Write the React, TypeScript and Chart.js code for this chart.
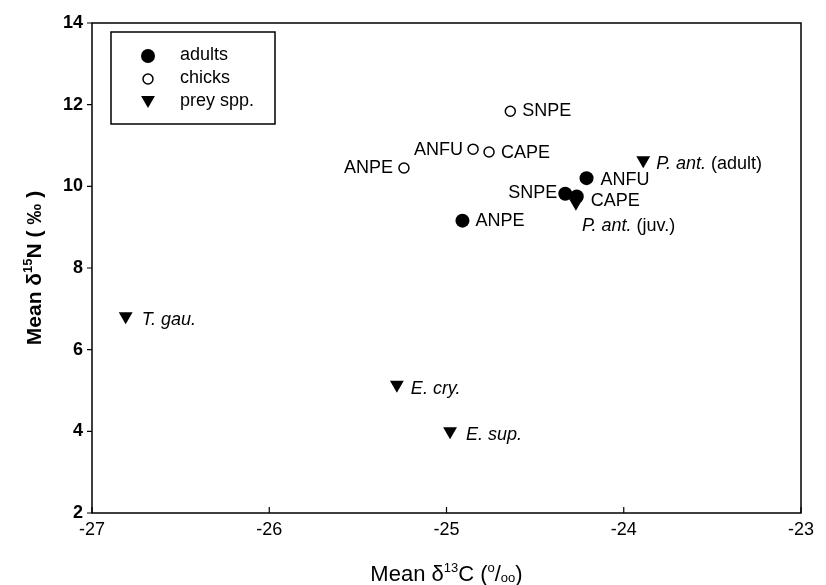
import React, { useEffect, useRef } from "react";
import { Chart, registerables } from "chart.js";

Chart.register(...registerables);

// ---------- data ----------
const xRange = [-27, -23];
const yRange = [2, 14];
const xStep = 1;
const yStep = 2;

const seriesNames = ["adults", "chicks", "prey spp."];

const adultLabels = ["ANPE", "ANFU", "SNPE", "CAPE"];
const adultC = [-24.91, -24.21, -24.33, -24.265];
const adultN = [9.16, 10.2, 9.82, 9.75];

const chickLabels = ["ANPE", "ANFU", "CAPE", "SNPE"];
const chickC = [-25.24, -24.85, -24.76, -24.64];
const chickN = [10.45, 10.91, 10.84, 11.84];

const preyLabels = ["*P. ant.* (adult)", "*P. ant.* (juv.)", "*T. gau.*", "*E. cry.*", "*E. sup.*"];
const preyC = [-23.89, -24.27, -26.81, -25.28, -24.98];
const preyN = [10.64, 9.6, 6.82, 5.14, 4.0];

// ---------- styling (label placement relative to marker, px) ----------
type Place = { dx: number; dy: number; align: "left" | "right" };
const adultPlace: Place[] = [
  { dx: 13, dy: 0, align: "left" },
  { dx: 14, dy: 2, align: "left" },
  { dx: -8, dy: -1, align: "right" },
  { dx: 14, dy: 4, align: "left" },
];
const chickPlace: Place[] = [
  { dx: -11, dy: 0, align: "right" },
  { dx: -10, dy: 1, align: "right" },
  { dx: 12, dy: 1, align: "left" },
  { dx: 12, dy: 0, align: "left" },
];
const preyPlace: Place[] = [
  { dx: 13, dy: 4, align: "left" },
  { dx: 6, dy: 23, align: "left" },
  { dx: 16, dy: 4, align: "left" },
  { dx: 14, dy: 4, align: "left" },
  { dx: 16, dy: 4, align: "left" },
];

const FONT = "'Liberation Sans', Arial, Helvetica, sans-serif";
const LABEL_SIZE = 18;

const PLOT = { left: 92, right: 801, top: 23, bottom: 513 };
const W = 826;
const H = 585;

function drawRich(ctx: CanvasRenderingContext2D, text: string, x: number, y: number, align: "left" | "right", size: number) {
  const segs = text.split("*");
  const parts = segs.map((s, i) => ({ s, italic: i % 2 === 1 })).filter((p) => p.s.length);
  let total = 0;
  for (const p of parts) {
    ctx.font = `${p.italic ? "italic " : ""}${size}px ${FONT}`;
    total += ctx.measureText(p.s).width;
  }
  let cx = align === "left" ? x : x - total;
  ctx.textAlign = "left";
  ctx.textBaseline = "middle";
  for (const p of parts) {
    ctx.font = `${p.italic ? "italic " : ""}${size}px ${FONT}`;
    ctx.fillText(p.s, cx, y);
    cx += ctx.measureText(p.s).width;
  }
}

type Part = { t: string; scale?: number; dy?: number };
function drawParts(ctx: CanvasRenderingContext2D, parts: Part[], cx: number, cy: number, size: number, weight: string) {
  let total = 0;
  for (const p of parts) {
    ctx.font = `${weight} ${Math.round(size * (p.scale || 1))}px ${FONT}`;
    total += ctx.measureText(p.t).width;
  }
  let x = cx - total / 2;
  ctx.textAlign = "left";
  ctx.textBaseline = "alphabetic";
  const base = cy + size * 0.36;
  for (const p of parts) {
    ctx.font = `${weight} ${Math.round(size * (p.scale || 1))}px ${FONT}`;
    ctx.fillText(p.t, x, base + (p.dy || 0) * size);
    x += ctx.measureText(p.t).width;
  }
}

const xTitleParts: Part[] = [
  { t: "Mean δ" },
  { t: "13", scale: 0.6, dy: -0.42 },
  { t: "C (" },
  { t: "o", scale: 0.6, dy: -0.42 },
  { t: "/" },
  { t: "oo", scale: 0.6, dy: 0.05 },
  { t: ")" },
];
const yTitleParts: Part[] = [
  { t: "Mean δ" },
  { t: "15", scale: 0.6, dy: -0.42 },
  { t: "N ( ‰ )" },
];

const decorPlugin = {
  id: "decor",
  afterDatasetsDraw(chart: any) {
    const ctx: CanvasRenderingContext2D = chart.ctx;
    const area = chart.chartArea;
    const xs = chart.scales.x;
    const ys = chart.scales.y;
    ctx.save();
    ctx.fillStyle = "#000";
    ctx.strokeStyle = "#000";

    // point labels
    const labelSets = [
      { labels: adultLabels, place: adultPlace },
      { labels: chickLabels, place: chickPlace },
      { labels: preyLabels, place: preyPlace },
    ];
    labelSets.forEach((set, di) => {
      const meta = chart.getDatasetMeta(di);
      meta.data.forEach((el: any, i: number) => {
        const p = set.place[i];
        drawRich(ctx, set.labels[i], el.x + p.dx, el.y + p.dy, p.align, LABEL_SIZE);
      });
    });

    // frame
    ctx.lineWidth = 1.5;
    ctx.strokeRect(area.left, area.top, area.right - area.left, area.bottom - area.top);

    // x ticks (inward)
    ctx.lineWidth = 1.2;
    ctx.beginPath();
    xs.ticks.forEach((t: any) => {
      const px = xs.getPixelForValue(t.value);
      ctx.moveTo(px, area.bottom);
      ctx.lineTo(px, area.bottom - 6);
    });
    // y ticks (outward)
    ys.ticks.forEach((t: any) => {
      const py = ys.getPixelForValue(t.value);
      ctx.moveTo(area.left, py);
      ctx.lineTo(area.left - 5, py);
    });
    ctx.stroke();

    // legend
    const lg = { x: 111, y: 32, w: 164, h: 92 };
    ctx.lineWidth = 1.5;
    ctx.strokeRect(lg.x, lg.y, lg.w, lg.h);
    const rowY = [56, 79, 102];
    const mx = 148;
    const tx = 180;
    // filled circle
    ctx.beginPath();
    ctx.arc(mx, rowY[0], 7, 0, Math.PI * 2);
    ctx.fill();
    // open circle
    ctx.beginPath();
    ctx.arc(mx, rowY[1], 5, 0, Math.PI * 2);
    ctx.fillStyle = "#fff";
    ctx.fill();
    ctx.lineWidth = 1.5;
    ctx.stroke();
    ctx.fillStyle = "#000";
    // triangle down
    const r = 8;
    const ty = rowY[2] - 2;
    ctx.beginPath();
    ctx.moveTo(mx, ty + r);
    ctx.lineTo(mx - r * 0.866, ty - r / 2);
    ctx.lineTo(mx + r * 0.866, ty - r / 2);
    ctx.closePath();
    ctx.fill();
    seriesNames.forEach((n, i) => {
      drawRich(ctx, n, tx, rowY[i] - 1, "left", LABEL_SIZE);
    });

    // axis titles
    drawParts(ctx, xTitleParts, (area.left + area.right) / 2, 573, 22, "normal");
    ctx.save();
    ctx.translate(33, (area.top + area.bottom) / 2);
    ctx.rotate(-Math.PI / 2);
    drawParts(ctx, yTitleParts, 0, 0, 21, "bold");
    ctx.restore();

    ctx.restore();
  },
};

export default function App() {
  const ref = useRef<HTMLCanvasElement>(null);
  useEffect(() => {
    if (!ref.current) return;
    const toPts = (xsArr: number[], ysArr: number[]) => xsArr.map((x, i) => ({ x, y: ysArr[i] }));
    const chart = new Chart(ref.current, {
      type: "scatter",
      data: {
        datasets: [
          {
            label: seriesNames[0],
            data: toPts(adultC, adultN),
            pointStyle: "circle",
            pointRadius: 7,
            pointBackgroundColor: "#000",
            pointBorderColor: "#000",
            pointBorderWidth: 0,
          },
          {
            label: seriesNames[1],
            data: toPts(chickC, chickN),
            pointStyle: "circle",
            pointRadius: 5,
            pointBackgroundColor: "#fff",
            pointBorderColor: "#000",
            pointBorderWidth: 1.5,
          },
          {
            label: seriesNames[2],
            data: toPts(preyC, preyN),
            pointStyle: "triangle",
            pointRotation: 180,
            pointRadius: 8,
            pointBackgroundColor: "#000",
            pointBorderColor: "#000",
            pointBorderWidth: 0,
          },
        ],
      },
      options: {
        animation: false,
        responsive: false,
        devicePixelRatio: 1,
        layout: { padding: { left: 0, top: PLOT.top, right: W - PLOT.right, bottom: 0 } },
        plugins: { legend: { display: false }, tooltip: { enabled: false } },
        scales: {
          x: {
            type: "linear",
            min: xRange[0],
            max: xRange[1],
            ticks: { stepSize: xStep, padding: 6, color: "#000", font: { family: FONT, size: 18 } },
            grid: { display: false, drawTicks: false },
            border: { display: false },
            afterFit: (s: any) => {
              s.height = H - PLOT.bottom;
            },
          },
          y: {
            type: "linear",
            min: yRange[0],
            max: yRange[1],
            ticks: { stepSize: yStep, padding: 9, color: "#000", font: { family: FONT, size: 18, weight: "bold" } },
            grid: { display: false, drawTicks: false },
            border: { display: false },
            afterFit: (s: any) => {
              s.width = PLOT.left;
            },
          },
        },
      },
      plugins: [decorPlugin],
    } as any);
    return () => chart.destroy();
  }, []);
  return (
    <div style={{ position: "absolute", left: 0, top: 0, width: W, height: H, background: "#fff" }}>
      <canvas ref={ref} width={W} height={H} style={{ display: "block" }} />
    </div>
  );
}
